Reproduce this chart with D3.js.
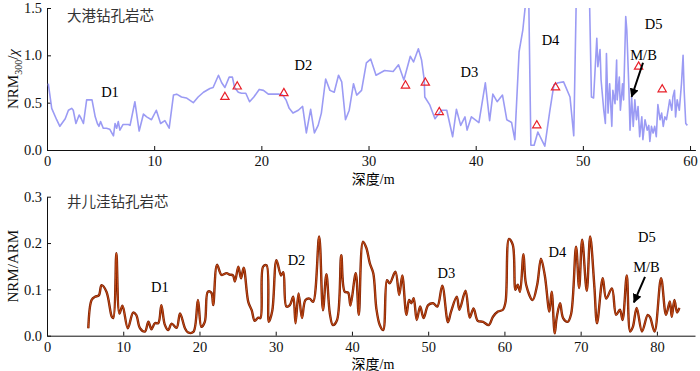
<!DOCTYPE html>
<html>
<head>
<meta charset="utf-8">
<script src="https://cdn.jsdelivr.net/npm/d3@7"></script>
<style>
  body { margin: 0; background: #fff; }
  svg { display: block; font-family: "Liberation Serif", serif; }
</style>
</head>
<body>
<div id="chart"></div>
<script>
// Dagang core, NRM300/chi
const topDepth = [
  0.12, 0.44, 0.9, 1.2, 1.7, 2.0, 2.3, 2.45, 2.7, 3.0, 3.2, 3.4, 3.7, 4.0, 4.2, 4.5, 4.7, 4.85,
  5.0, 5.25, 5.55, 5.85, 6.2, 6.35, 6.5, 6.65, 6.8, 7.1, 7.6, 7.75, 8.2, 8.6, 9.0, 9.3, 9.75,
  10.2, 10.6, 11.0, 11.4, 11.8, 12.1, 12.55, 13.0, 13.65, 14.1, 14.6, 15.2, 15.5, 16.0, 16.3,
  16.6, 17.0, 17.3, 17.5, 17.85, 18.15, 18.55, 18.9, 19.3, 19.8, 20.2, 20.65, 21.1, 21.6, 22.0,
  22.3, 22.6, 22.95, 23.45, 23.85, 24.2, 24.6, 24.95, 25.3, 25.6, 26.0, 26.4, 26.8, 27.2, 27.5,
  27.85, 28.2, 28.6, 28.9, 29.35, 29.8, 30.2, 30.7, 31.5, 32.3, 32.8, 33.3, 33.9, 34.2, 34.65,
  34.95, 35.2, 35.25, 35.7, 36.2, 36.8, 37.3, 37.85, 38.2, 38.6, 39.0, 39.2, 39.6, 40.3, 40.9,
  41.3, 41.6, 42.0, 42.5, 42.9, 43.35, 43.65, 44.05, 44.4, 44.7, 44.95, 45.15, 45.45, 45.8,
  46.45, 46.9, 47.3, 47.7, 48.2, 48.8, 49.15, 49.4, 50.6, 50.8, 51.0, 51.3, 51.4, 51.6, 51.7,
  51.95, 52.1, 52.2, 52.35, 52.5, 52.7, 52.8, 53.0, 53.15, 53.2, 53.4, 53.5, 53.7, 53.8, 54.0,
  54.1, 54.3, 54.4, 54.55, 54.7, 54.85, 55.0, 55.15, 55.3, 55.5, 55.6, 55.8, 56.0, 56.15, 56.25,
  56.4, 56.55, 56.7, 56.85, 57.0, 57.2, 57.35, 57.5, 57.65, 57.8, 57.95, 58.1, 58.3, 58.4,
  58.55, 58.65, 58.8, 59.0, 59.2, 59.35, 59.45, 59.6, 59.75
];
const topNRM = [
  0.70, 0.44, 0.32, 0.25, 0.33, 0.42, 0.44, 0.42, 0.28, 0.37, 0.33, 0.28, 0.53, 0.53, 0.53, 0.35, 0.28, 0.25,
  0.30, 0.23, 0.23, 0.22, 0.15, 0.28, 0.23, 0.30, 0.21, 0.27, 0.27, 0.26, 0.51, 0.20, 0.38, 0.35, 0.32,
  0.42, 0.28, 0.31, 0.23, 0.58, 0.59, 0.56, 0.55, 0.50, 0.56, 0.61, 0.65, 0.66, 0.79, 0.71,
  0.66, 0.77, 0.77, 0.66, 0.61, 0.60, 0.60, 0.51, 0.56, 0.64, 0.63, 0.59, 0.59, 0.59, 0.58,
  0.53, 0.44, 0.39, 0.42, 0.46, 0.18, 0.43, 0.18, 0.26, 0.39, 0.75, 0.63, 0.61, 0.79, 0.72,
  0.32, 0.42, 0.70, 0.58, 0.63, 0.92, 0.96, 0.79, 0.84, 0.83, 0.90, 0.74, 0.99, 0.93, 1.07,
  0.95, 0.74, 0.56, 0.48, 0.33, 0.42, 0.42, 0.14, 0.43, 0.26, 0.35, 0.21, 0.35, 0.29, 0.71,
  0.31, 0.59, 0.51, 0.58, 0.32, 0.29, 0.11, 1.04, 1.27, 1.6, 1.6, 0.05, 0.05, 0.19,
  0.04, 0.40, 0.69, 0.71, 0.72, 0.56, 0.15, 1.7, 1.7, 0.56, 0.55, 1.18, 0.88, 1.06, 0.74,
  0.42, 0.28, 1.02, 0.39, 0.70, 0.25, 0.63, 0.49, 0.95, 0.53, 0.77, 0.42, 0.70, 0.53, 1.41,
  1.27, 0.63, 0.21, 0.56, 0.25, 0.53, 0.32, 0.46, 0.14, 0.35, 0.11, 0.32, 0.21, 0.26, 0.09,
  0.25, 0.18, 0.25, 0.14, 0.48, 0.32, 0.39, 0.25, 0.35, 0.32, 0.42, 0.53, 0.42, 0.56,
  0.63, 0.35, 0.53, 0.42, 0.70, 1.00, 0.63, 0.28, 0.26
];
// red triangles
const triDepth = [16.6, 17.75, 22.1, 33.45, 35.3, 36.6, 45.7, 47.45, 55.2, 57.4];
const triNRM = [0.56, 0.67, 0.60, 0.68, 0.71, 0.40, 0.26, 0.66, 0.88, 0.64];

// Jingerwa core, NRM/ARM
const botDepth = [
  5.42, 5.85, 6.3, 6.8, 7.15, 7.8, 8.5, 8.7, 9.1, 9.5, 9.9, 10.6, 11.3, 11.7, 12.2, 12.85,
  13.3, 13.7, 14.15, 14.6, 15.0, 15.45, 15.9, 16.35, 17.0, 17.45, 18.1, 18.5, 19.2, 19.8,
  20.25, 20.7, 21.1, 21.55, 21.8, 22.3, 22.9, 23.55, 23.95, 24.4, 24.65, 25.1, 25.45, 25.8,
  26.4, 26.85, 27.25, 27.7, 28.0, 28.35, 28.8, 29.1, 29.55, 30.1, 30.7, 31.0, 31.4, 31.85,
  32.3, 32.6, 33.0, 33.45, 33.9, 34.45, 34.9, 35.7, 36.2, 36.65, 37.1, 37.5, 38.05, 38.6,
  39.05, 39.5, 39.8, 40.5, 40.9, 41.45, 41.9, 42.35, 42.8, 43.2, 43.65, 44.1, 44.6, 44.95,
  45.7, 46.2, 46.6, 47.15, 47.5, 47.8, 48.1, 48.5, 48.95, 49.4, 50.0, 50.65, 51.2, 51.85,
  52.6, 53.0, 53.75, 54.1, 54.9, 55.45, 55.95, 56.5, 57.2, 57.95, 58.5, 59.15, 59.8, 60.15,
  60.6, 61.1, 61.45, 61.75, 62.05, 62.5, 62.85, 63.7, 64.3, 64.8, 65.3, 65.9, 66.2, 66.6,
  66.85, 67.3, 67.7, 68.3, 68.75, 69.4, 69.8, 70.2, 70.8, 71.25, 71.8, 72.15, 72.9, 73.35,
  74.1, 74.65, 75.15, 75.5, 76.05, 76.5, 76.85, 77.35, 78.05, 78.8, 79.1, 79.7, 80.55, 81.2,
  81.7, 81.95, 82.3, 82.65, 82.95
];
const botRatio = [
  0.016, 0.077, 0.084, 0.087, 0.109, 0.095, 0.041, 0.038, 0.178, 0.048, 0.065, 0.016, 0.050, 0.045, 0.016, 0.009,
  0.030, 0.014, 0.027, 0.027, 0.066, 0.024, 0.012, 0.026, 0.017, 0.048, 0.016, 0.007, 0.008, 0.077,
  0.019, 0.030, 0.095, 0.093, 0.066, 0.153, 0.131, 0.135, 0.132, 0.130, 0.117, 0.149, 0.124, 0.147,
  0.073, 0.055, 0.032, 0.039, 0.038, 0.149, 0.152, 0.030, 0.054, 0.163, 0.130, 0.137, 0.063, 0.066,
  0.084, 0.027, 0.091, 0.038, 0.077, 0.080, 0.073, 0.214, 0.055, 0.133, 0.048, 0.023, 0.034, 0.174,
  0.095, 0.093, 0.065, 0.135, 0.045, 0.203, 0.189, 0.156, 0.135, 0.059, 0.023, 0.012, 0.120, 0.113,
  0.138, 0.088, 0.130, 0.045, 0.077, 0.070, 0.081, 0.034, 0.063, 0.038, 0.066, 0.070, 0.063, 0.108,
  0.029, 0.052, 0.084, 0.056, 0.097, 0.039, 0.059, 0.032, 0.030, 0.023, 0.041, 0.052, 0.056, 0.073,
  0.209, 0.196, 0.099, 0.110, 0.095, 0.176, 0.110, 0.077, 0.110, 0.166, 0.130, 0.052, 0.095, 0.005,
  0.038, 0.070, 0.038, 0.030, 0.047, 0.192, 0.103, 0.207, 0.097, 0.214, 0.106, 0.027, 0.124, 0.080,
  0.102, 0.045, 0.056, 0.034, 0.130, 0.009, 0.019, 0.060, 0.009, 0.045, 0.040, 0.009, 0.124, 0.045,
  0.074, 0.041, 0.077, 0.050, 0.060
];

const yTicksTop = [0, 0.5, 1.0, 1.5];
const yTicksBot = [0, 0.1, 0.2, 0.3];
const zoneNames = ["D1", "D2", "D3", "D4", "D5"];

const width = 700;
const height = 371;

const svg = d3.select("#chart").append("svg")
  .attr("width", width)
  .attr("height", height);

svg.append("defs").append("marker")
  .attr("id", "head")
  .attr("viewBox", "0 0 10 10")
  .attr("refX", 9).attr("refY", 5)
  .attr("markerWidth", 4.5).attr("markerHeight", 4.5)
  .attr("markerUnits", "strokeWidth")
  .attr("orient", "auto")
  .append("path")
  .attr("d", "M0,0L10,5L0,10z")
  .attr("fill", "#000");

function panel({ id, x, y, yTicks, title, ylab, xLabelY, titleY }) {
  const g = svg.append("g");

  g.append("clipPath").attr("id", id)
    .append("rect")
    .attr("x", x.range()[0]).attr("y", y.range()[1])
    .attr("width", x.range()[1] - x.range()[0])
    .attr("height", y.range()[0] - y.range()[1]);

  const xAxis = g.append("g")
    .attr("transform", `translate(0,${y.range()[0]})`)
    .call(d3.axisBottom(x).tickValues(d3.range(0, x.domain()[1], 10))
      .tickSizeInner(-4).tickSizeOuter(0).tickPadding(6).tickFormat(d3.format("d")));

  const yAxis = g.append("g")
    .attr("transform", `translate(${x.range()[0]},0)`)
    .call(d3.axisLeft(y).tickValues(yTicks)
      .tickSizeInner(-4).tickSizeOuter(0).tickPadding(5).tickFormat(d3.format(".1f")));

  [xAxis, yAxis].forEach((a) => {
    a.selectAll("text").attr("font-size", 14.5).attr("font-family", "Liberation Serif").attr("fill", "#111");
    a.selectAll("path, line").attr("stroke", "#111");
  });

  g.append("text")
    .attr("x", x.range()[0] + 20).attr("y", titleY)
    .attr("font-family", "Noto Sans CJK SC")
    .attr("font-size", 14.5)
    .attr("fill", "#333")
    .text(title);

  // x label sits just under the tick numbers
  g.append("text")
    .attr("x", (x.range()[0] + x.range()[1]) / 2 + 2).attr("y", xLabelY)
    .attr("text-anchor", "middle")
    .attr("font-size", 14)
    .call((t) => t.append("tspan").attr("font-family", "Noto Sans CJK SC").text("深度"))
    .call((t) => t.append("tspan").text("/m"));

  g.append("text")
    .attr("transform", `translate(18,${(y.range()[0] + y.range()[1]) / 2}) rotate(-90)`)
    .attr("text-anchor", "middle")
    .attr("font-size", 15)
    .attr("fill", "#111")
    .call(ylab);

  return g;
}

// ---- top: Dagang
const xTop = d3.scaleLinear().domain([0, 60.5]).range([47, 695.4]);
const yTop = d3.scaleLinear().domain([0, 1.5]).range([150, 8]);

const gTop = panel({
  id: "clipTop", x: xTop, y: yTop, yTicks: yTicksTop,
  title: "大港钻孔岩芯", titleY: 21, xLabelY: 184,
  ylab: (t) => {
    t.append("tspan").text("NRM");
    t.append("tspan").attr("font-size", 10).attr("dy", 4).text("300");
    t.append("tspan").attr("dy", -4).text("/");
    t.append("tspan").attr("font-style", "italic").text("χ");
  },
});

gTop.append("path")
  .datum(d3.zip(topDepth, topNRM))
  .attr("clip-path", "url(#clipTop)")
  .attr("fill", "none")
  .attr("stroke", "#9b9bf4")
  .attr("stroke-width", 1.6)
  .attr("stroke-linejoin", "round")
  .attr("d", d3.line().x((d) => xTop(d[0])).y((d) => yTop(d[1])));

gTop.append("g")
  .selectAll("path")
  .data(d3.zip(triDepth, triNRM))
  .join("path")
  .attr("transform", (d) => `translate(${xTop(d[0])},${yTop(d[1])})`)
  .attr("d", d3.symbol(d3.symbolTriangle, 30))
  .attr("fill", "none")
  .attr("stroke", "#e8202a")
  .attr("stroke-width", 1.2);

const topZonePos = [[5.88, 0.56], [23.93, 0.845], [39.42, 0.77], [46.98, 1.11], [56.6, 1.28]];
gTop.append("g")
  .selectAll("text")
  .data(zoneNames)
  .join("text")
  .attr("x", (d, i) => xTop(topZonePos[i][0]))
  .attr("y", (d, i) => yTop(topZonePos[i][1]))
  .attr("text-anchor", "middle")
  .attr("font-size", 14.5)
  .text((d) => d);

gTop.append("text")
  .attr("x", xTop(55.66)).attr("y", yTop(0.95))
  .attr("text-anchor", "middle")
  .attr("font-size", 14.5)
  .text("M/B");

gTop.append("line")
  .attr("x1", xTop(55.61)).attr("y1", yTop(0.922))
  .attr("x2", xTop(54.55)).attr("y2", yTop(0.563))
  .attr("stroke", "#000").attr("stroke-width", 2)
  .attr("marker-end", "url(#head)");

// ---- bottom: Jingerwa
const xBot = d3.scaleLinear().domain([0, 85]).range([47, 695]);
const yBot = d3.scaleLinear().domain([0, 0.3]).range([335.7, 196.7]);

const gBot = panel({
  id: "clipBot", x: xBot, y: yBot, yTicks: yTicksBot,
  title: "井儿洼钻孔岩芯", titleY: 207, xLabelY: 368.5,
  ylab: (t) => t.text("NRM/ARM"),
});

const botLine = d3.line()
  .curve(d3.curveCatmullRom.alpha(0.5))
  .x((d) => xBot(d[0])).y((d) => yBot(d[1]));
const botData = d3.zip(botDepth, botRatio);

gBot.append("path")
  .datum(botData)
  .attr("fill", "none")
  .attr("stroke", "#7a1e00")
  .attr("stroke-width", 2.4)
  .attr("d", botLine);

gBot.append("path")
  .datum(botData)
  .attr("fill", "none")
  .attr("stroke", "#d0521a")
  .attr("stroke-width", 0.9)
  .attr("d", botLine);

const botZonePos = [[14.82, 0.094], [32.73, 0.153], [52.4, 0.125], [66.96, 0.17], [78.7, 0.202]];
gBot.append("g")
  .selectAll("text")
  .data(zoneNames)
  .join("text")
  .attr("x", (d, i) => xBot(botZonePos[i][0]))
  .attr("y", (d, i) => yBot(botZonePos[i][1]))
  .attr("text-anchor", "middle")
  .attr("font-size", 14.5)
  .text((d) => d);

gBot.append("text")
  .attr("x", xBot(78.64)).attr("y", yBot(0.1375))
  .attr("text-anchor", "middle")
  .attr("font-size", 14.5)
  .text("M/B");

gBot.append("line")
  .attr("x1", xBot(78.44)).attr("y1", yBot(0.127))
  .attr("x2", xBot(76.99)).attr("y2", yBot(0.072))
  .attr("stroke", "#000").attr("stroke-width", 2)
  .attr("marker-end", "url(#head)");
</script>
</body>
</html>
